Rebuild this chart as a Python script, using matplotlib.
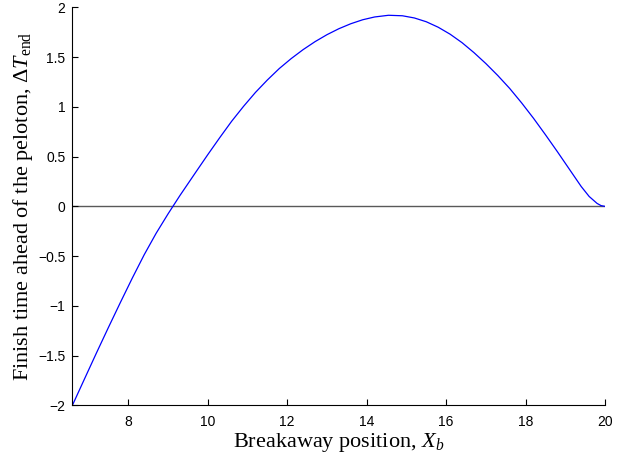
import matplotlib
matplotlib.use('Agg')
import matplotlib.pyplot as plt

# 글꼴 설정 (MATLAB 스타일: 눈금은 Helvetica 계열, 축 제목은 Times 계열)
plt.rcParams['font.family'] = 'Liberation Sans'
plt.rcParams['mathtext.fontset'] = 'custom'
plt.rcParams['mathtext.rm'] = 'Liberation Serif'
plt.rcParams['mathtext.it'] = 'Liberation Serif:italic'

# 곡선 데이터
breakaway_x = [6.59, 6.9, 7.2, 7.5, 7.8, 8.1, 8.4, 8.7, 9.0, 9.3, 9.7, 10.0,
               10.3, 10.6, 10.9, 11.2, 11.5, 11.8, 12.1, 12.4, 12.7, 13.0,
               13.3, 13.6, 13.9, 14.2, 14.55, 14.9, 15.2, 15.5, 15.8, 16.1,
               16.4, 16.7, 17.0, 17.3, 17.6, 17.9, 18.2, 18.5, 18.8, 19.1,
               19.4, 19.6, 19.8, 19.9, 20.0]
finish_dt = [-2.0, -1.73, -1.47, -1.215, -0.965, -0.72, -0.485, -0.27, -0.075,
             0.11, 0.345, 0.52, 0.69, 0.855, 1.005, 1.145, 1.27, 1.385,
             1.485, 1.575, 1.655, 1.725, 1.785, 1.835, 1.875, 1.903, 1.92,
             1.915, 1.893, 1.855, 1.8, 1.73, 1.645, 1.545, 1.435, 1.315,
             1.185, 1.04, 0.885, 0.72, 0.55, 0.375, 0.2, 0.1, 0.03, 0.008, 0.0]

x_ticks = [8, 10, 12, 14, 16, 18, 20]
y_ticks = [-2, -1.5, -1, -0.5, 0, 0.5, 1, 1.5, 2]
y_tick_labels = ['\u22122', '\u22121.5', '\u22121', '\u22120.5', '0', '0.5', '1', '1.5', '2']

fig = plt.figure(figsize=(6.24, 4.57), dpi=100)
ax = fig.add_axes([0.1159, 0.1127, 0.8537, 0.8713])

ax.axhline(0, color='0.35', lw=1.0, zorder=1)  # 기준선
ax.plot(breakaway_x, finish_dt, color='blue', lw=0.9, zorder=2)

ax.set_xlim(6.59, 20)
ax.set_ylim(-2, 2)
ax.set_xticks(x_ticks)
ax.set_yticks(y_ticks)
ax.set_yticklabels(y_tick_labels)

ax.spines['top'].set_visible(False)
ax.spines['right'].set_visible(False)
ax.tick_params(direction='in', length=4, width=0.8, labelsize=10)
ax.tick_params(axis='x', pad=7)
ax.tick_params(axis='y', pad=5)

serif = {'family': 'Liberation Serif', 'size': 16}
ax.set_xlabel(r'Breakaway position, $\mathit{X}_{\mathit{b}}$', fontdict=serif, labelpad=1)
ax.set_ylabel('Finish time ahead of the peloton, $\\mathit{\u0394T}_{\\mathrm{end}}$',
              fontdict=serif, labelpad=2)

fig.savefig('out.png', dpi=100)
